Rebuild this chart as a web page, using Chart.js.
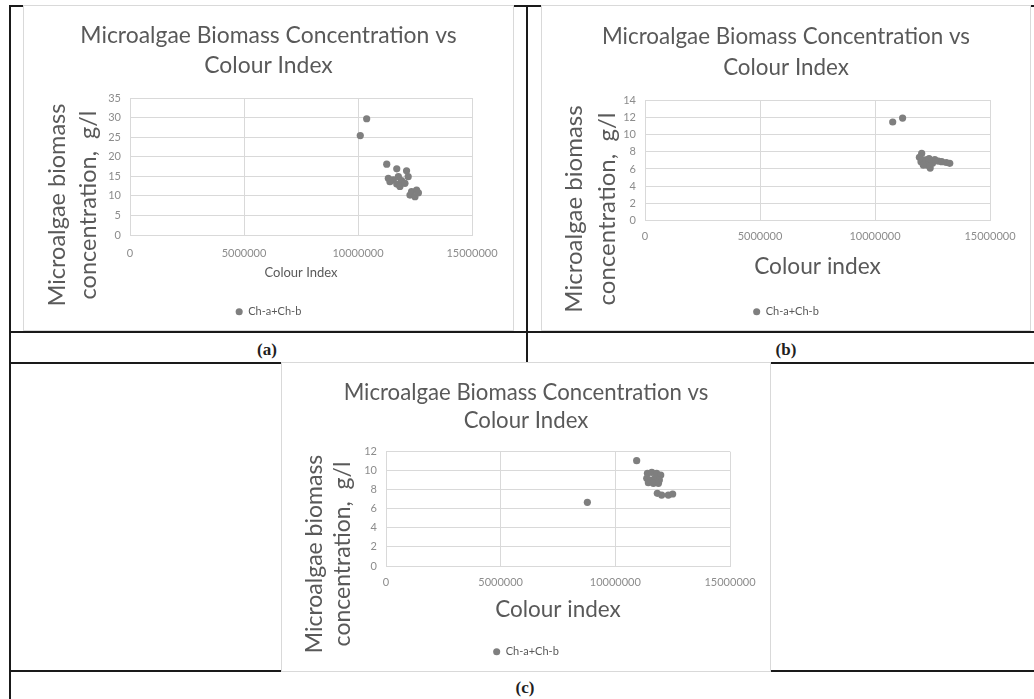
<!DOCTYPE html>
<html>
<head>
<meta charset="utf-8">
<title>Microalgae Biomass Concentration vs Colour Index</title>
<script src="https://cdn.jsdelivr.net/npm/chart.js@4.4.0/dist/chart.umd.min.js"></script>
<style>
  body { margin: 0; background: #fff; }
  #sheet { position: relative; width: 1034px; height: 699px; overflow: hidden; background: #fff; }
  .rule { position: absolute; background: #1a1a1a; }
  .frame { position: absolute; background: #fff; border: 1px solid #d9d9d9; box-sizing: border-box; }
  .frame canvas { display: block; }
  .tag { position: absolute; font: bold 17px "Liberation Serif", serif; color: #1f1f1f; transform: translate(-50%, -50%); }
</style>
</head>
<body>
<div id="sheet">
  <!-- table rules -->
  <div class="rule" style="left:10px;top:5px;width:1024px;height:2px"></div>
  <div class="rule" style="left:9px;top:5px;width:2px;height:694px"></div>
  <div class="rule" style="left:526px;top:5px;width:2px;height:358px"></div>
  <div class="rule" style="left:10px;top:331px;width:1024px;height:2px"></div>
  <div class="rule" style="left:10px;top:362px;width:1024px;height:2px"></div>
  <div class="rule" style="left:10px;top:670px;width:1024px;height:2px"></div>

  <div class="frame" style="left:23px;top:5px;width:491px;height:326px"><canvas id="chartA" width="489" height="324"></canvas></div>
  <div class="frame" style="left:541px;top:5px;width:490px;height:326px"><canvas id="chartB" width="488" height="324"></canvas></div>
  <div class="frame" style="left:281px;top:362px;width:490px;height:310px"><canvas id="chartC" width="488" height="308"></canvas></div>

  <div class="tag" style="left:267px;top:350px">(a)</div>
  <div class="tag" style="left:786px;top:350px">(b)</div>
  <div class="tag" style="left:525px;top:688px">(c)</div>
</div>

<script>
// series (a)
const colourIndexA = [10100000, 10380000, 11260000, 11700000, 12130000, 12200000, 11330000, 11550000,
  11770000, 11910000, 11400000, 11700000, 11840000, 12060000, 12350000, 12570000, 12280000, 12500000, 12650000];
const biomassA = [25.4, 29.7, 18.1, 16.9, 16.4, 14.9, 14.5, 14.1,
  14.9, 13.9, 13.6, 13.0, 12.4, 13.2, 11.1, 11.5, 10.2, 9.8, 10.8];

// series (b)
const colourIndexB = [10770000, 11200000, 12030000, 11930000, 12000000, 12200000, 12260000, 12400000,
  12500000, 12600000, 12750000, 12900000, 13100000, 13250000, 12350000, 12100000];
const biomassB = [11.45, 11.9, 7.8, 7.35, 6.85, 7.05, 6.45, 6.1,
  6.65, 7.1, 6.9, 6.85, 6.75, 6.65, 7.2, 6.45];

// series (c)
const colourIndexC = [8780000, 10930000, 11400000, 11590000, 11800000, 11980000, 11370000, 11540000,
  11730000, 11920000, 11440000, 11660000, 11880000, 11830000, 12020000, 12310000, 12500000];
const biomassC = [6.68, 11.06, 9.73, 9.83, 9.73, 9.55, 9.2, 9.03,
  9.2, 9.03, 8.75, 8.68, 8.68, 7.63, 7.45, 7.45, 7.56];

const seriesName = 'Ch-a+Ch-b';
const chartTitle = ['Microalgae Biomass Concentration vs', 'Colour Index'];
const yAxisTitle = ['Microalgae biomass', 'concentration,  g/l'];
const xMax = 15000000;
const xStep = 5000000;

const dotColour = '#7f7f7f';
const gridColour = '#d9d9d9';
const textColour = '#595959';
const tickColour = '#8c8c8c';
const family = 'Lato';

// rotated two-line axis title, centred on the plot + legend block like Excel does
function sideTitle(lines, xs, y, size) {
  return {
    id: 'sideTitle',
    afterDraw(chart) {
      const ctx = chart.ctx;
      ctx.save();
      ctx.font = size + 'px ' + family;
      ctx.fillStyle = textColour;
      ctx.textAlign = 'center';
      ctx.textBaseline = 'middle';
      lines.forEach((line, i) => {
        ctx.save();
        ctx.translate(xs[i], y);
        ctx.rotate(-Math.PI / 2);
        ctx.fillText(line, 0, 0);
        ctx.restore();
      });
      ctx.restore();
    }
  };
}

function buildChart(id, xs, ys, cfg) {
  const points = xs.map((x, i) => ({ x, y: ys[i] }));
  const legendFont = 11;
  const legendTop = cfg.legendY - legendFont / 2 - 10;
  const legendBottom = cfg.legendY + legendFont / 2 + 10;
  const titleTop = cfg.titleY - cfg.titleLH / 2;

  return new Chart(document.getElementById(id), {
    type: 'scatter',
    data: {
      datasets: [{
        label: seriesName,
        data: points,
        backgroundColor: dotColour,
        borderColor: dotColour,
        pointRadius: 3.6,
        pointHoverRadius: 3.6,
        pointBorderWidth: 0
      }]
    },
    options: {
      responsive: false,
      animation: false,
      events: [],
      layout: { padding: { left: 0, right: 0, top: 0, bottom: cfg.height - legendBottom } },
      plugins: {
        title: {
          display: true,
          text: chartTitle,
          color: textColour,
          font: { family, size: cfg.titleSize, weight: 'normal', lineHeight: cfg.titleLH + 'px' },
          padding: { top: titleTop, bottom: cfg.plotTop - titleTop - 2 * cfg.titleLH }
        },
        legend: {
          position: 'bottom',
          labels: {
            usePointStyle: true,
            pointStyle: 'circle',
            boxWidth: 7,
            boxHeight: 5,
            padding: 10,
            color: textColour,
            font: { family, size: legendFont }
          }
        },
        tooltip: { enabled: false }
      },
      scales: {
        x: {
          type: 'linear',
          position: 'bottom',
          min: 0,
          max: xMax,
          ticks: {
            stepSize: xStep,
            maxRotation: 0,
            padding: cfg.tickY - cfg.plotBottom - 6.6,
            color: tickColour,
            font: { family, size: 11 },
            callback: v => String(v)
          },
          grid: { color: gridColour, drawTicks: false },
          border: { color: gridColour },
          title: {
            display: true,
            text: cfg.xTitle,
            color: textColour,
            font: { family, size: cfg.xTitleSize },
            padding: { top: 0, bottom: legendTop - cfg.xTitleY - 0.6 * cfg.xTitleSize }
          },
          afterFit: s => { s.height = legendTop - cfg.plotBottom; }
        },
        y: {
          min: 0,
          max: cfg.yMax,
          ticks: {
            stepSize: cfg.yStep,
            padding: 9,
            color: tickColour,
            font: { family, size: 11 }
          },
          grid: { color: gridColour, drawTicks: false },
          border: { color: gridColour },
          afterFit: s => { s.width = cfg.plotLeft; }
        },
        // empty right-hand strip so the plot sits left of centre
        gap: {
          type: 'linear',
          position: 'right',
          grid: { display: false },
          border: { display: false },
          ticks: { display: false },
          afterFit: s => { s.width = cfg.width - cfg.plotRight; }
        }
      }
    },
    plugins: [sideTitle(yAxisTitle, cfg.yTitleX, cfg.yTitleY, cfg.yTitleSize)]
  });
}

buildChart('chartA', colourIndexA, biomassA, {
  width: 489, height: 324,
  plotLeft: 106, plotRight: 448, plotTop: 92, plotBottom: 229,
  titleY: 30, titleLH: 30, titleSize: 22.9,
  yTitleX: [33.5, 64], yTitleY: 199, yTitleSize: 23.5,
  tickY: 247, xTitle: 'Colour Index', xTitleSize: 13, xTitleY: 267,
  legendY: 305.7, yMax: 35, yStep: 5
});

buildChart('chartB', colourIndexB, biomassB, {
  width: 488, height: 324,
  plotLeft: 103, plotRight: 448, plotTop: 94, plotBottom: 214.7,
  titleY: 30.3, titleLH: 31.4, titleSize: 22.4,
  yTitleX: [32, 65], yTitleY: 203, yTitleSize: 24,
  tickY: 230.7, xTitle: 'Colour index', xTitleSize: 22.7, xTitleY: 260.5,
  legendY: 305.7, yMax: 14, yStep: 2
});

buildChart('chartC', colourIndexC, biomassC, {
  width: 488, height: 308,
  plotLeft: 104, plotRight: 448, plotTop: 88.7, plotBottom: 203,
  titleY: 29.7, titleLH: 28.6, titleSize: 22.2,
  yTitleX: [32.5, 61], yTitleY: 191, yTitleSize: 23,
  tickY: 219, xTitle: 'Colour index', xTitleSize: 22.5, xTitleY: 246.5,
  legendY: 288.7, yMax: 12, yStep: 2
});
</script>
</body>
</html>
